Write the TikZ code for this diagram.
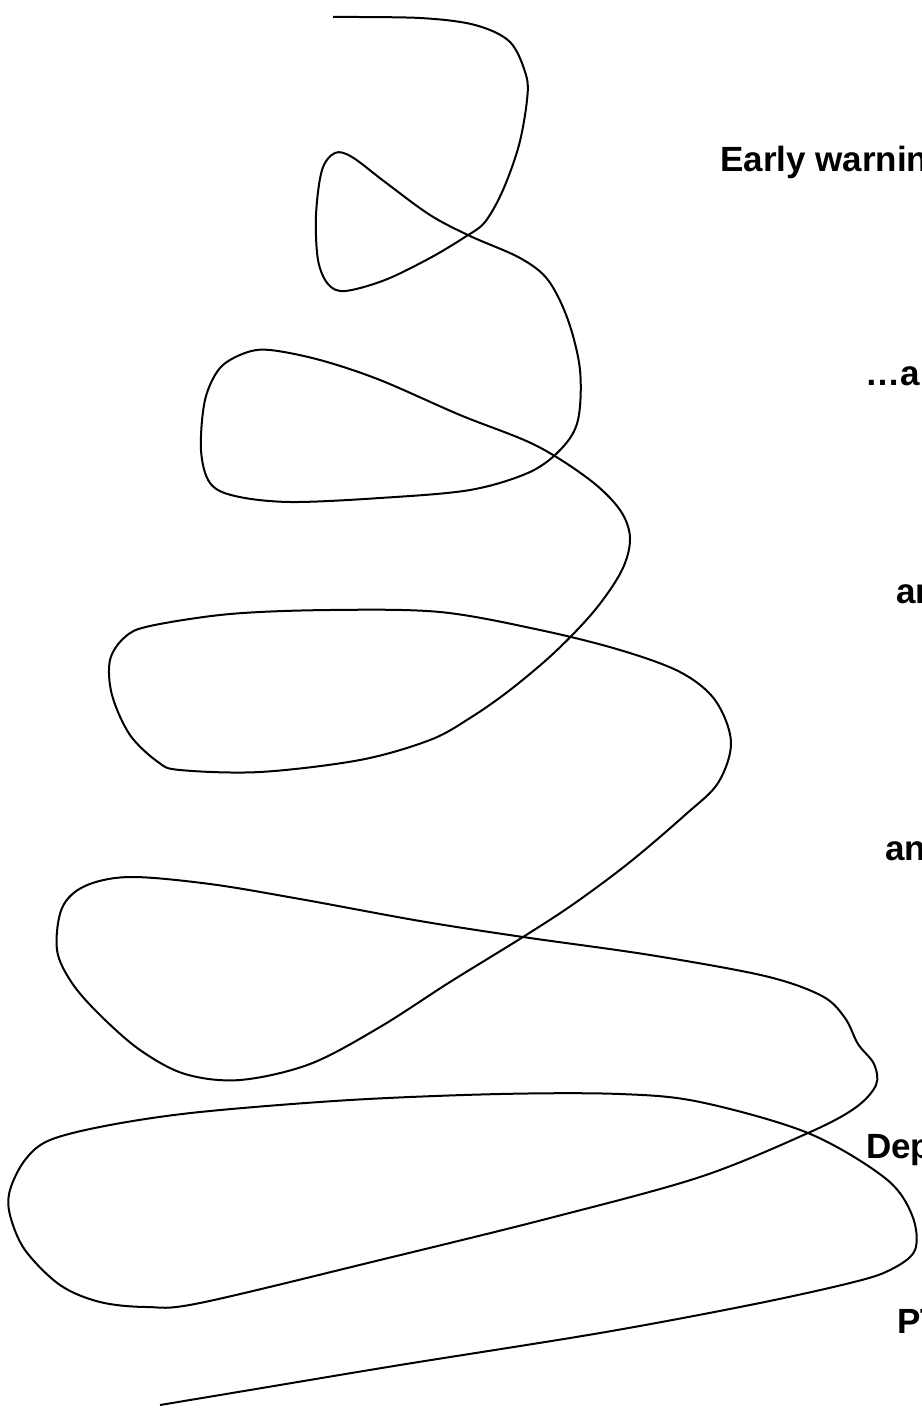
\documentclass[tikz,border=0pt]{standalone}
\usepackage{fontspec}
\setmainfont{Liberation Sans}
\begin{document}
\begin{tikzpicture}[x=1pt,y=-1pt,
  lbl/.style={anchor=base west,inner sep=0pt,font=\fontsize{35}{42}\selectfont\bfseries},
  squiggle/.style={line width=2pt,black}]
\useasboundingbox (0,0) rectangle (921,1415);
\draw[squiggle] plot[smooth,tension=0.55] coordinates {
(333,17) (420,18) (475,25) (510,42) (526,75) (527,100) (519,145) (503,190) (485,222) (465,237) (430,258) (385,280) (345,291) (328,284) (318,260) (316,215) (322,170) (335,153) (352,157) (385,182) (430,215) (470,236) (520,258) (548,280) (568,320) (580,370) (578,420) (562,448) (530,472) (470,490) (380,498) (290,502) (235,496) (210,483) (201,450) (205,400) (220,368) (245,353) (270,350) (320,360) (380,380) (460,415) (535,445) (590,480) (620,510) (630,538) (622,570) (595,610) (555,652) (510,690) (470,718) (430,740) (360,760) (260,772) (180,770) (158,762) (130,735) (112,695) (110,660) (125,637) (150,626) (230,614) (330,610) (440,612) (540,630) (620,650) (680,672) (715,700) (731,742) (718,783) (685,815) (630,862) (575,903) (523,937) (450,982) (380,1027) (310,1064) (240,1080) (185,1074) (140,1050) (100,1015) (72,983) (57,950) (62,908) (85,886) (130,877) (210,884) (300,899) (420,921) (523,937) (650,955) (765,976) (822,996) (845,1018) (858,1044) (874,1064) (876,1085) (855,1108) (808,1133) (700,1177) (550,1218) (380,1260) (200,1303) (147,1307) (100,1302) (60,1285) (25,1250) (10,1215) (10,1190) (25,1160) (50,1140) (110,1125) (200,1112) (350,1100) (500,1094) (620,1094) (700,1102) (808,1133) (885,1178) (912,1215) (915,1250) (890,1270) (850,1283) (750,1305) (600,1333) (400,1365) (250,1390) (160,1405)};
\node[lbl] (t1) at (720,172) {Early warning};
\node[lbl] (t2) at (865,385) {\dots a};
\node[lbl] (t3) at (896,603) {an};
\node[lbl] (t4) at (885,860) {an};
\node[lbl] (t5) at (866,1158) {Dep};
\node[lbl] (t6) at (897,1333) {PT};
\end{tikzpicture}
\end{document}
